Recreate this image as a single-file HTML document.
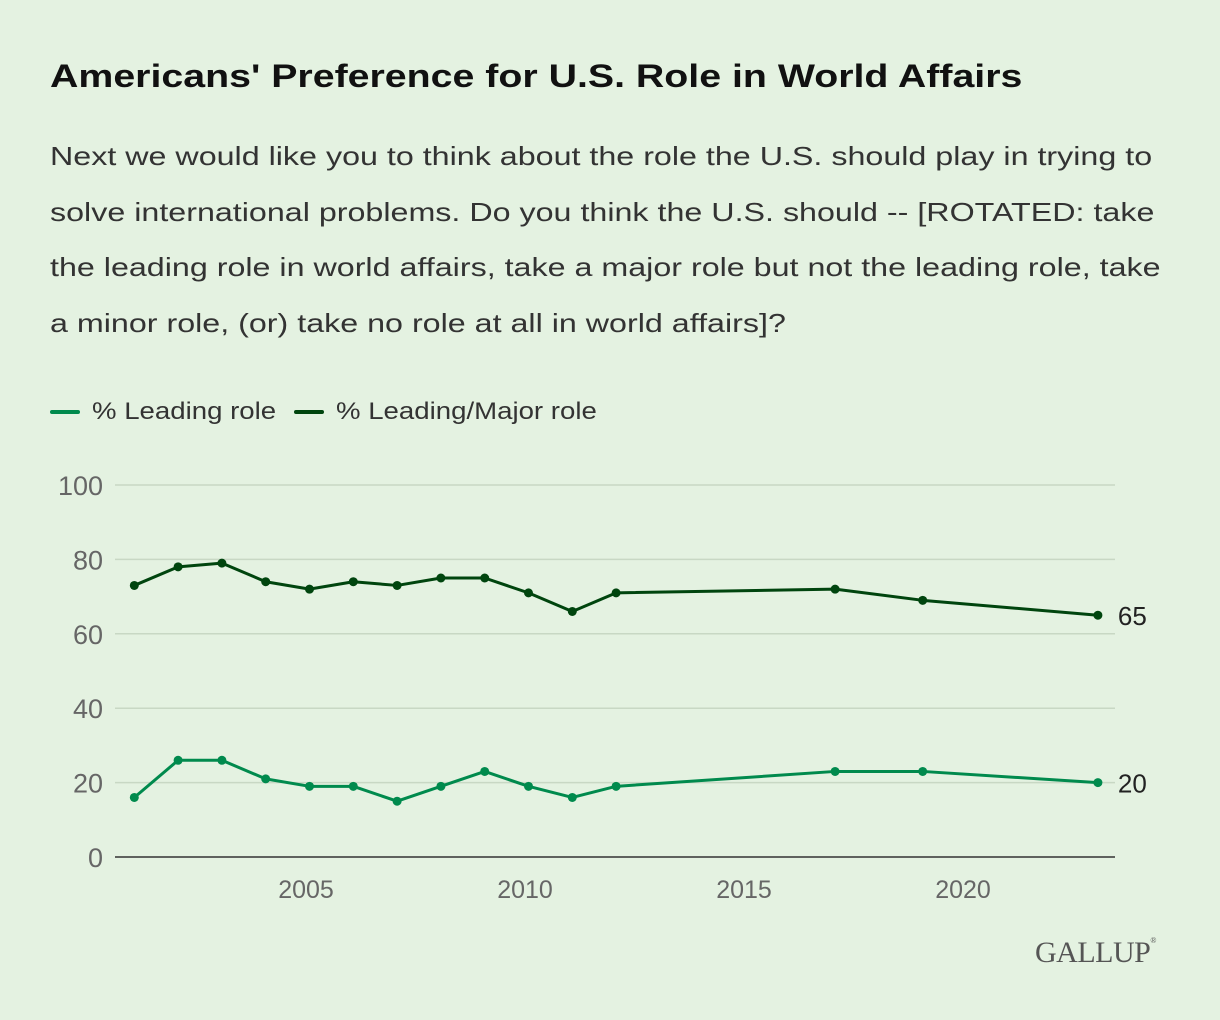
<!DOCTYPE html>
<html><head><meta charset="utf-8"><style>
body{margin:0;background:#e4f2e1;font-family:"Liberation Sans",sans-serif;}
#wrap{position:relative;width:1220px;height:1020px;overflow:hidden}
h1{position:absolute;left:50px;top:58px;margin:0;font-size:32px;font-weight:bold;color:#111;white-space:nowrap;transform:scaleX(1.228);transform-origin:left top}
#sub{position:absolute;left:50px;top:129px;font-size:26px;line-height:55.5px;color:#333}
#sub span{display:block;white-space:nowrap;transform:scaleX(1.24);transform-origin:left center}
#legend{position:absolute;left:50px;top:393px;font-size:24px;color:#333;white-space:nowrap}
.lg{display:inline-flex;align-items:center;margin-right:14px}
.lt{display:inline-block;transform:scaleX(1.15);transform-origin:left center}
.sw{display:inline-block;width:30px;height:4px;border-radius:2px;margin-right:12px}
#gallup{position:absolute;left:1035px;top:936px;font-family:"Liberation Serif",serif;font-size:30px;color:#555;letter-spacing:-0.5px}
svg{position:absolute;left:0;top:0}
</style></head><body>
<div id="wrap">
<h1>Americans' Preference for U.S. Role in World Affairs</h1>
<div id="sub"><span>Next we would like you to think about the role the U.S. should play in trying to</span><span>solve international problems. Do you think the U.S. should -- [ROTATED: take</span><span>the leading role in world affairs, take a major role but not the leading role, take</span><span>a minor role, (or) take no role at all in world affairs]?</span></div>
<div id="legend">
<span class="lg" style="width:223px"><span class="sw" style="background:#008a4d"></span><span class="lt">% Leading role</span></span>
<span class="lg"><span class="sw" style="background:#00450e"></span><span class="lt">% Leading/Major role</span></span>
</div>
<svg id="chart" width="1220" height="1020"></svg>
<div id="gallup">GALLUP<sup style="font-size:8px;vertical-align:top">®</sup></div>
</div>
<script>
const years=[2001,2002,2003,2004,2005,2006,2007,2008,2009,2010,2011,2012,2017,2019,2023];
const majorVals=[73,78,79,74,72,74,73,75,75,71,66,71,72,69,65];
const leadVals=[16,26,26,21,19,19,15,19,23,19,16,19,23,23,20];
const yTicks=[0,20,40,60,80,100];
const xTicks=[2005,2010,2015,2020];
const svg=document.getElementById('chart');
const NS='http://www.w3.org/2000/svg';
const x=v=>306+(v-2005)*43.8;
const y=v=>857-v*3.72;
function mk(t,a){const e=document.createElementNS(NS,t);for(const k in a)e.setAttribute(k,a[k]);svg.appendChild(e);return e;}
yTicks.forEach(t=>{
 const l=mk('line',{x1:115,x2:1115,y1:y(t),y2:y(t),stroke:t===0?'#333':'#c8d8c4','stroke-width':1.5});
 
 
 const tx=mk('text',{x:103,y:y(t)+10,'text-anchor':'end','font-size':27,fill:'#666','font-family':'Liberation Sans, sans-serif'});
 tx.textContent=t;
 
 
});
xTicks.forEach(t=>{
 const tx=mk('text',{x:x(t),y:898,'text-anchor':'middle','font-size':25,fill:'#666','font-family':'Liberation Sans, sans-serif'});
 tx.textContent=t;
 
 
});
function series(vals,color,name){
 const pts=years.map((yr,i)=>x(yr+0.08)+','+y(vals[i])).join(' ');
 const pl=mk('polyline',{points:pts,fill:'none',stroke:color,'stroke-width':3,'stroke-linejoin':'round'});
 
 
 years.forEach((yr,i)=>{
  const c=mk('circle',{cx:x(yr+0.08),cy:y(vals[i]),r:4.5,fill:color});
  
  
 });
 const n=vals.length-1;
 const lb=mk('text',{x:x(years[n]+0.08)+20,y:y(vals[n])+10,'font-size':26,fill:'#222','font-family':'Liberation Sans, sans-serif'});
 lb.textContent=vals[n];
 
 
}
series(majorVals,'#00450e','leading-major');
series(leadVals,'#008a4d','leading');
</script>
</body></html>
